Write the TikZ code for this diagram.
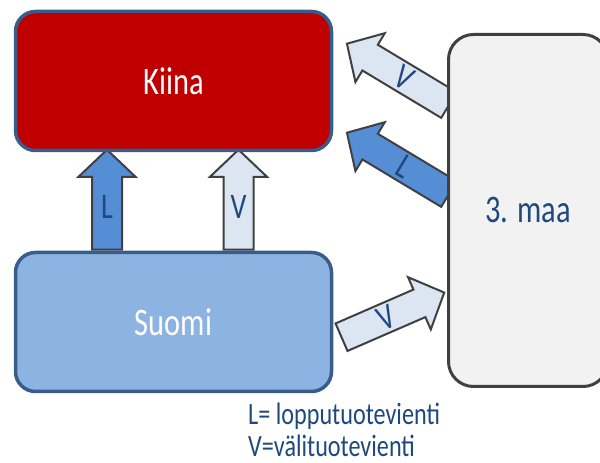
\documentclass[tikz,border=0pt]{standalone}
\usepackage{fontspec}
\setmainfont{Carlito}[FakeStretch=0.78]
\usepackage{tikz}
\usetikzlibrary{calc}
\usetikzlibrary{shapes.arrows}
\usetikzlibrary{backgrounds}
\definecolor{kiinared}{HTML}{C00000}
\definecolor{suomiblue}{HTML}{8DB3E2}
\definecolor{boxline}{HTML}{385D8A}
\definecolor{maagray}{HTML}{F2F2F2}
\definecolor{darkline}{HTML}{404040}
\definecolor{lblue}{HTML}{558ED5}
\definecolor{vblue}{HTML}{DCE6F2}
\definecolor{textblue}{HTML}{1F497D}
% label in the shaft, turned by #1, kept out of the shaft width
\newcommand{\shafttext}[2]{\smash{\raisebox{\dimexpr(\depth-\height)/2\relax}{\rotatebox{#1}{#2}}}}

\begin{document}
\begin{tikzpicture}[x=1pt,y=1pt,
    box/.style={rounded corners=20pt,line width=3.5pt,draw=boxline,
        minimum width=316pt,minimum height=139pt,inner sep=0pt,
        text=white,font=\fontsize{39}{40}\selectfont},
    blockarrow/.style={single arrow,draw=darkline,line width=2pt,inner xsep=0pt,inner ysep=14pt,
        minimum width=55pt,single arrow head extend=13.5pt,single arrow tip angle=93,
        text=textblue,font=\fontsize{36}{36}\selectfont},
    larrow/.style={blockarrow,fill=lblue},
    varrow/.style={blockarrow,fill=vblue}]
    \useasboundingbox (0,0) rectangle (600,463);
    %\draw[help lines] (0,0) grid[step=50] (600,463);
	\node[box,fill=kiinared] (kiina) at (173.5,382) {Kiina};
	\node[box,fill=suomiblue] (suomi) at (173.5,141) {Suomi};
	\node[rounded corners=25pt,line width=3pt,draw=darkline,fill=maagray,
	    minimum width=159.5pt,minimum height=352pt,inner sep=0pt,
	    text=textblue,font=\fontsize{39}{40}\selectfont] (maa) at (528.25,252.5) {3. maa};
	\begin{pgfonlayer}{background}
	    % Suomi -> Kiina
	    \node[larrow,rotate=90,minimum height=100pt,anchor=tail] (sl) at ($(suomi.north)+(-66.5,0)$) {\shafttext{-90}{L}\hspace{12pt}};
	    \node[varrow,rotate=90,minimum height=100pt,anchor=tail] (sv) at ($(suomi.north)+(65,0)$) {\shafttext{-90}{V}\hspace{12pt}};
	    % 3. maa -> Kiina
	    \node[varrow,rotate=149,minimum height=119pt,anchor=tip] (mv) at ($(kiina.east)+(12.5,38)$) {\shafttext{180}{V}\hspace{12pt}};
	    \node[larrow,rotate=149,minimum height=119pt,anchor=tip] (ml) at ($(kiina.east)+(12.5,-51)$) {\shafttext{180}{L}\hspace{4pt}};
	    % Suomi -> 3. maa
	    \node[varrow,rotate=23.5,minimum height=112pt,anchor=tip] (smv) at ($(maa.west)+(-1.5,-81.5)$) {\shafttext{0}{V}\hspace{18pt}};
	\end{pgfonlayer}
	\node[anchor=south west,inner sep=0pt,align=left,text=textblue,
	    font=\fontsize{31}{32}\selectfont] (legend) at (248,6) {L= lopputuotevienti\\V=välituotevienti};
\end{tikzpicture}
\end{document}
